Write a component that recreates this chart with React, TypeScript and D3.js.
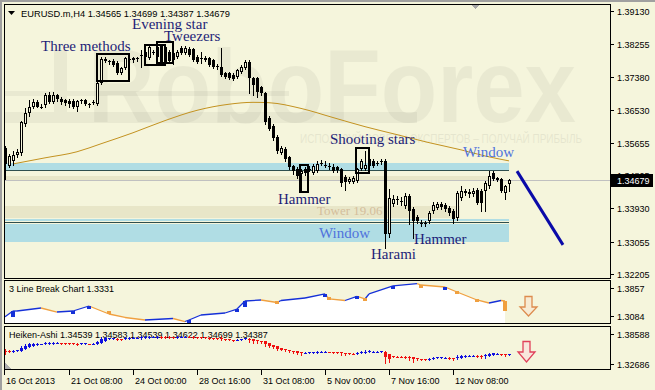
import React from "react";
import * as d3 from "d3";

// ---------- data ----------
const OPEN = [1.3553,1.3505,1.3518,1.3534,1.3539,1.3616,1.3643,1.3659,1.3672,1.3661,1.3664,1.3690,1.3672,1.3690,1.3680,1.3677,1.3675,1.3675,1.3661,1.3677,1.3677,1.3667,1.3669,1.3667,1.3722,1.3786,1.3780,1.3780,1.3775,1.3749,1.3762,1.3786,1.3783,1.3786,1.3794,1.3791,1.3788,1.3804,1.3791,1.3820,1.3818,1.3804,1.3802,1.3791,1.3815,1.3802,1.3812,1.3812,1.3791,1.3788,1.3788,1.3788,1.3783,1.3767,1.3764,1.3749,1.3749,1.3743,1.3738,1.3751,1.3762,1.3778,1.3735,1.3735,1.3712,1.3696,1.3632,1.3611,1.3582,1.3539,1.3550,1.3529,1.3505,1.3497,1.3484,1.3497,1.3497,1.3486,1.3492,1.3510,1.3508,1.3502,1.3502,1.3502,1.3497,1.3476,1.3462,1.3462,1.3465,1.3497,1.3497,1.3505,1.3518,1.3510,1.3518,1.3518,1.3325,1.3404,1.3415,1.3409,1.3399,1.3425,1.3391,1.3370,1.3354,1.3351,1.3359,1.3386,1.3393,1.3404,1.3401,1.3393,1.3386,1.3367,1.3420,1.3433,1.3431,1.3431,1.3441,1.3439,1.3439,1.3452,1.3486,1.3473,1.3470,1.3433,1.34565];
const HIGH = [1.3558,1.3537,1.3545,1.3550,1.3624,1.3656,1.3677,1.3680,1.3677,1.3667,1.3696,1.3698,1.3698,1.3693,1.3685,1.3682,1.3680,1.3680,1.3677,1.3682,1.3680,1.3669,1.3677,1.3725,1.3791,1.3791,1.3783,1.3786,1.3780,1.3764,1.3791,1.3791,1.3791,1.3791,1.3810,1.3810,1.3820,1.3810,1.3823,1.3826,1.3820,1.3810,1.3807,1.3810,1.3820,1.3820,1.3818,1.3815,1.3796,1.3804,1.3794,1.3791,1.3786,1.3772,1.3815,1.3751,1.3751,1.3749,1.3759,1.3770,1.3783,1.3783,1.3738,1.3738,1.3714,1.3698,1.3635,1.3614,1.3587,1.3558,1.3555,1.3531,1.3508,1.3502,1.3497,1.3502,1.3505,1.3510,1.3518,1.3521,1.3518,1.3513,1.3510,1.3505,1.3500,1.3481,1.3476,1.3478,1.3500,1.3523,1.3545,1.3550,1.3523,1.3518,1.3523,1.3523,1.3444,1.3428,1.3425,1.3423,1.3433,1.3431,1.3396,1.3375,1.3362,1.3359,1.3386,1.3409,1.3409,1.3409,1.3407,1.3399,1.3391,1.3439,1.3452,1.3444,1.3444,1.3446,1.3446,1.3444,1.3465,1.3492,1.3492,1.3476,1.3473,1.3454,1.34699];
const LOW = [1.3470,1.3502,1.3508,1.3529,1.3534,1.3611,1.3637,1.3656,1.3659,1.3656,1.3661,1.3669,1.3669,1.3675,1.3667,1.3664,1.3661,1.3656,1.3648,1.3669,1.3664,1.3661,1.3667,1.3664,1.3720,1.3778,1.3772,1.3767,1.3746,1.3746,1.3759,1.3778,1.3778,1.3780,1.3764,1.3788,1.3786,1.3799,1.3788,1.3775,1.3775,1.3778,1.3772,1.3788,1.3799,1.3799,1.3794,1.3780,1.3775,1.3775,1.3780,1.3767,1.3762,1.3759,1.3741,1.3735,1.3733,1.3730,1.3735,1.3749,1.3759,1.3696,1.3690,1.3685,1.3690,1.3616,1.3598,1.3574,1.3539,1.3537,1.3518,1.3497,1.3484,1.3473,1.3439,1.3481,1.3492,1.3484,1.3489,1.3508,1.3502,1.3497,1.3489,1.3489,1.3452,1.3441,1.3460,1.3460,1.3462,1.3494,1.3494,1.3502,1.3502,1.3508,1.3510,1.3288,1.3317,1.3399,1.3404,1.3401,1.3393,1.3351,1.3314,1.3354,1.3346,1.3346,1.3354,1.3380,1.3391,1.3391,1.3386,1.3375,1.3354,1.3362,1.3415,1.3428,1.3423,1.3425,1.3404,1.3386,1.3386,1.3446,1.3468,1.3465,1.3436,1.3417,1.34387];
const CLOSE = [1.3510,1.3531,1.3534,1.3542,1.3619,1.3643,1.3659,1.3672,1.3661,1.3659,1.3690,1.3672,1.3690,1.3680,1.3672,1.3669,1.3667,1.3659,1.3675,1.3675,1.3667,1.3666,1.3672,1.3722,1.3786,1.3780,1.3778,1.3770,1.3749,1.3762,1.3788,1.3783,1.3788,1.3788,1.3796,1.3804,1.3818,1.3803,1.3818,1.3778,1.3778,1.3780,1.3783,1.3804,1.3802,1.3815,1.3796,1.3783,1.3778,1.3787,1.3783,1.3770,1.3764,1.3764,1.3743,1.3738,1.3735,1.3733,1.3757,1.3764,1.3778,1.3735,1.3717,1.3698,1.3696,1.3619,1.3603,1.3579,1.3545,1.3553,1.3523,1.3502,1.3492,1.3478,1.3492,1.3486,1.3496,1.3505,1.3510,1.3513,1.3507,1.3505,1.3492,1.3494,1.3460,1.3462,1.3470,1.3473,1.3497,1.3518,1.3508,1.3523,1.3505,1.3513,1.3517,1.3325,1.3420,1.3417,1.3417,1.3412,1.3425,1.3386,1.3359,1.3359,1.3355,1.3354,1.3380,1.3401,1.3404,1.3396,1.3391,1.3380,1.3364,1.3433,1.3439,1.3438,1.3436,1.3439,1.3407,1.3407,1.3460,1.3478,1.3470,1.3468,1.3439,1.3452,1.34679];

const MA_IDX = [2,10,18,24,32,40,48,56,62,66,74,82,90,98,106,114,120,126];
const MA_VAL = [1.3510,1.3526,1.3542,1.3563,1.3592,1.3624,1.3651,1.3667,1.3672,1.3671,1.3656,1.3632,1.3608,1.3587,1.3566,1.3547,1.3531,1.3518];

const PRICE_TICKS = [1.3913,1.38255,1.3738,1.3653,1.35655,1.34805,1.3393,1.33055,1.32205];
const PRICE_LABELS = ["1.39130","1.38255","1.37380","1.36530","1.35655","1.34805","1.33930","1.33055","1.32205"];
const LAST_PRICE = 1.34679;
const LAST_LABEL = "1.34679";

const DATE_IDX = [0,16,32,48,64,80,96,112];
const DATE_LABELS = ["16 Oct 2013","21 Oct 08:00","24 Oct 00:00","28 Oct 16:00","31 Oct 08:00","5 Nov 00:00","7 Nov 16:00","12 Nov 08:00"];

// 3 line break
const LB_IDX = [0,2,3,9,13,17,21,26,30,35,42,45,46,49,55,58,60,64,68,69,75,80,81,85,88,90,91,97,103,104,110,113,118,121,124,125];
const LB_VAL = [1.3062,1.3222,1.3222,1.3305,1.3194,1.3222,1.3360,1.3139,1.3043,1.2974,1.3015,1.2932,1.2974,1.3112,1.3167,1.3277,1.3498,1.3526,1.3457,1.3512,1.3581,1.3692,1.3554,1.3512,1.3623,1.3554,1.3692,1.3913,1.3979,1.3940,1.3885,1.3747,1.3526,1.3443,1.3512,1.3498];
const BRICK_IDX = [2,17,21,26,46,58,60,68,80,81,88,90,97,104,110,113,118,125];
const BRICK_FROM = [1.3062,1.3139,1.3305,1.3222,1.2932,1.3222,1.3333,1.3498,1.3609,1.3609,1.3581,1.3581,1.3858,1.3940,1.3858,1.3775,1.3554,1.3498];
const BRICK_TO = [1.3222,1.3222,1.3360,1.3139,1.2974,1.3277,1.3498,1.3457,1.3692,1.3554,1.3623,1.3540,1.3913,1.3913,1.3885,1.3747,1.3526,1.3222];
const LB_TICKS = [1.3857,1.3084];
const LB_LABELS = ["1.3857","1.3084"];
const HA_TICKS = [1.38588,1.32686];
const HA_LABELS = ["1.38588","1.32686"];

// levels / zones
const WINDOW_UP = [1.3495,1.3512];
const WINDOW_UP_LINE = 1.3495;
const BEIGE_BAND = [1.3468,1.3478];
const TOWER_BAND = [1.3368,1.3399];
const LOW_THIN = [1.3359,1.3365];
const LOW_LINE1 = 1.3358;
const LOW_LINE2 = 1.3352;
const WINDOW_LOW = [1.3305,1.3351];
const DIAG_IDX = [128,139.5];
const DIAG_VAL = [1.3491,1.3297];

const BOXES = [
  { i0: 23, i1: 31, p0: 1.37991, p1: 1.37281 },
  { i0: 35, i1: 40, p0: 1.38228, p1: 1.37702 },
  { i0: 38, i1: 42, p0: 1.38307, p1: 1.37755 },
  { i0: 73.8, i1: 75.8, p0: 1.35071, p1: 1.34362 },
  { i0: 87.8, i1: 91, p0: 1.35519, p1: 1.34862 },
];

const BG = "#F5F5DC";
const NAVY = "#1E1E78";
const WIN = "#4F72DC";
const SANS = "'Liberation Sans', Arial, sans-serif";
const SERIF = "'Liberation Serif', 'Times New Roman', serif";

export default function App() {
  const x = d3.scaleLinear().domain([0, 126]).range([5, 509]);
  const y = d3.scaleLinear().domain([1.32205, 1.3913]).range([274, 10.7]);
  const yLB = d3.scaleLinear().domain([1.3084, 1.3857]).range([316, 288]);
  const yHA = d3.scaleLinear().domain([1.32686, 1.38588]).range([364, 334]);

  const maLine = d3.line<number>().x((_, k) => x(MA_IDX[k])).y((v) => y(v)).curve(d3.curveMonotoneX)(MA_VAL) || "";
  const lbArea = d3.area<number>().x((_, k) => x(LB_IDX[k])).y0(323).y1((v) => yLB(v))(LB_VAL) || "";

  // Heiken-Ashi from the candle arrays
  const ha: { o: number; c: number; h: number; l: number }[] = [];
  OPEN.forEach((o, i) => {
    const c = (o + HIGH[i] + LOW[i] + CLOSE[i]) / 4;
    const hoStart = i === 0 ? (o + CLOSE[i]) / 2 : (ha[i - 1].o + ha[i - 1].c) / 2;
    ha.push({ o: hoStart, c, h: Math.max(HIGH[i], hoStart, c), l: Math.min(LOW[i], hoStart, c) });
  });

  const zone = (p: number[], x0: number, x1: number, fill: string, key: string) => {
    const y0 = Math.round(y(p[1]));
    const y1 = Math.round(y(p[0]));
    return <rect key={key} x={x0} y={y0} width={x1 - x0} height={Math.max(1, y1 - y0)} fill={fill} />;
  };
  const hline = (p: number, x0: number, x1: number, stroke: string, key: string) => (
    <line key={key} x1={x0} x2={x1} y1={Math.round(y(p)) + 0.5} y2={Math.round(y(p)) + 0.5} stroke={stroke} />
  );

  return (
    <div style={{ position: "fixed", left: 0, top: 0, width: 655, height: 390 }}>
      <svg width={655} height={390} style={{ display: "block", fontFamily: SANS }} shapeRendering="crispEdges">
        <rect x={0} y={0} width={655} height={390} fill={BG} />
        <rect x={0} y={0} width={655} height={2} fill="#A0A0A0" />
        <rect x={0} y={0} width={2} height={390} fill="#A0A0A0" />

        {/* ---------- main panel ---------- */}
        <g>
          {/* watermark */}
          <g fill="#000" opacity={0.045}>
            <rect x={5} y={91} width={284} height={5} />
            <rect x={5} y={112} width={412} height={11} />
            <rect x={54} y={50} width={13} height={72} />
          </g>
          <text x={88} y={122} fontSize={103} fontWeight={700} textLength={488} lengthAdjust="spacingAndGlyphs" fill="#000" opacity={0.045} shapeRendering="auto">RoboForex</text>
          <text x={300} y={143} fontSize={12} textLength={282} lengthAdjust="spacingAndGlyphs" fill="#000" opacity={0.06}>ИСПОЛЬЗУЙ СОВЕТЫ ЭКСПЕРТОВ – ПОЛУЧАЙ ПРИБЫЛЬ</text>

          {/* zones */}
          {zone(BEIGE_BAND, 5, 490, "#E8E6C8", "bb")}
          {zone(TOWER_BAND, 5, 460, "#E8E6C8", "tb")}
          {zone(WINDOW_UP, 5, 509, "#B0DDE4", "wu")}
          {hline(WINDOW_UP_LINE, 5, 509, "#2F4F4F", "wul")}
          {zone(LOW_THIN, 5, 509, "#B0DDE4", "lt")}
          {hline(LOW_LINE1, 5, 509, "#2F4F4F", "ll1")}
          {hline(LOW_LINE2, 5, 509, "#1A2A2A", "ll2")}
          {zone(WINDOW_LOW, 5, 509, "#B0DDE4", "wl")}
          {hline(LAST_PRICE, 5, 610, "#C0C0C0", "lp")}
          <text x={317} y={215} fontFamily={SERIF} fontSize={13} fill="#D4BE9C" shapeRendering="auto">Tower 19.06</text>

          {/* moving average */}
          <path d={maLine} fill="none" stroke="#C39220" strokeWidth={1} shapeRendering="auto" />

          {/* candles */}
          {OPEN.map((o, i) => {
            const cx = Math.round(x(i));
            const c = CLOSE[i];
            const yO = Math.round(y(o)), yC = Math.round(y(c));
            const yH = Math.round(y(HIGH[i])), yL = Math.round(y(LOW[i]));
            const top = Math.min(yO, yC), bot = Math.max(yO, yC);
            if (c > o && bot - top >= 2) {
              return (
                <g key={i}>
                  <line x1={cx + 0.5} x2={cx + 0.5} y1={yH} y2={top} stroke="#000" />
                  <line x1={cx + 0.5} x2={cx + 0.5} y1={bot} y2={yL + 1} stroke="#000" />
                  <rect x={cx - 0.5} y={top + 0.5} width={2} height={bot - top - 1} fill={BG} stroke="#000" />
                </g>
              );
            }
            return (
              <g key={i}>
                <line x1={cx + 0.5} x2={cx + 0.5} y1={yH} y2={yL + 1} stroke="#000" />
                <rect x={cx - 1} y={top} width={3} height={Math.max(1, bot - top)} fill="#000" />
              </g>
            );
          })}

          {/* pattern boxes */}
          {BOXES.map((b, k) => (
            <rect key={k} x={Math.round(x(b.i0))} y={Math.round(y(b.p0))} width={Math.round(x(b.i1)) - Math.round(x(b.i0))}
              height={Math.round(y(b.p1)) - Math.round(y(b.p0))} fill="none" stroke="#000" strokeWidth={2} />
          ))}

          {/* annotation labels */}
          <g fontFamily={SERIF} fontSize={15} fill={NAVY} shapeRendering="auto">
            <text x={41} y={51}>Three methods</text>
            <text x={132} y={29}>Evening star</text>
            <text x={164} y={41}>Tweezers</text>
            <text x={330} y={144}>Shooting stars</text>
            <text x={278} y={204}>Hammer</text>
            <text x={414} y={244}>Hammer</text>
            <text x={371} y={259}>Harami</text>
            <text x={463} y={157} fill={WIN}>Window</text>
            <text x={319} y={238} fill={WIN}>Window</text>
          </g>

          {/* forecast line */}
          <line x1={x(DIAG_IDX[0])} y1={y(DIAG_VAL[0])} x2={x(DIAG_IDX[1])} y2={y(DIAG_VAL[1])} stroke="#0A0AA8" strokeWidth={3} shapeRendering="auto" />

          {/* shift marker */}
          <path d="M471,5 L479,5 L475,9 Z" fill="#A8A8A8" />

          {/* header */}
          <path d="M8,11 L15,11 L11.5,15 Z" fill="#000" shapeRendering="auto" />
          <text x={21} y={17} fontSize={9.3} fill="#000" shapeRendering="auto">EURUSD.m,H4  1.34565 1.34699 1.34387 1.34679</text>

          <rect x={4.5} y={4.5} width={606} height={274} fill="none" stroke="#000" />
        </g>

        {/* price axis */}
        <g fontSize={9} fill="#000" shapeRendering="auto">
          {PRICE_TICKS.map((p, k) => (
            <g key={k}>
              <line x1={611} x2={614} y1={Math.round(y(p)) + 0.5} y2={Math.round(y(p)) + 0.5} stroke="#000" shapeRendering="crispEdges" />
              <text x={617} y={Math.round(y(p)) + 3.5}>{PRICE_LABELS[k]}</text>
            </g>
          ))}
          <rect x={611} y={Math.round(y(LAST_PRICE)) - 6} width={42} height={13} fill="#000" shapeRendering="crispEdges" />
          <text x={617} y={Math.round(y(LAST_PRICE)) + 4} fill="#fff">{LAST_LABEL}</text>
        </g>

        {/* ---------- 3 line break panel ---------- */}
        <g>
          <path d={lbArea} fill="#FFFFFF" shapeRendering="auto" />
          {LB_VAL.slice(1).map((v, k) => {
            const prev = LB_VAL[k];
            return (
              <line key={k} x1={x(LB_IDX[k])} y1={yLB(prev)} x2={x(LB_IDX[k + 1])} y2={yLB(v)}
                stroke={v >= prev ? "#1530D8" : "#F0A040"} strokeWidth={1.3} shapeRendering="auto" />
            );
          })}
          {BRICK_IDX.map((bi, k) => {
            const a = yLB(BRICK_FROM[k]), b = yLB(BRICK_TO[k]);
            return (
              <rect key={k} x={Math.round(x(bi)) - 2} y={Math.round(Math.min(a, b))} width={4}
                height={Math.max(3, Math.round(Math.abs(a - b)))} fill={BRICK_TO[k] > BRICK_FROM[k] ? "#1530D8" : "#F0A040"} />
            );
          })}
          <text x={9} y={292} fontSize={9} fill="#000" shapeRendering="auto">3 Line Break Chart 1.3331</text>
          <path d="M525,296.5 L532,296.5 L532,307 L537,307 L528.5,316 L520,307 L525,307 Z" fill="#F7EBD4" stroke="#DD8B4E" strokeWidth={1.3} shapeRendering="auto" />
          <rect x={4.5} y={280.5} width={606} height={43} fill="none" stroke="#000" />
          <g fontSize={9} fill="#000" shapeRendering="auto">
            {LB_TICKS.map((p, k) => (
              <g key={k}>
                <line x1={611} x2={614} y1={Math.round(yLB(p)) + 0.5} y2={Math.round(yLB(p)) + 0.5} stroke="#000" shapeRendering="crispEdges" />
                <text x={617} y={Math.round(yLB(p)) + 3.5}>{LB_LABELS[k]}</text>
              </g>
            ))}
          </g>
        </g>

        {/* ---------- Heiken-Ashi panel ---------- */}
        <g>
          <text x={9} y={338} fontSize={9} fill="#000" shapeRendering="auto">Heiken-Ashi 1.34539 1.34583 1.34539 1.34622 1.34699 1.34387</text>
          {ha.map((d, i) => {
            const cx = Math.round(x(i));
            const col = d.c >= d.o ? "#1010E0" : "#F01010";
            const a = Math.round(yHA(d.o)), b = Math.round(yHA(d.c));
            const top = Math.min(a, b), bot = Math.max(a, b);
            return (
              <g key={i}>
                <line x1={cx + 0.5} x2={cx + 0.5} y1={Math.round(yHA(d.h))} y2={Math.round(yHA(d.l)) + 1} stroke={col} />
                <rect x={cx - 1} y={top} width={3} height={Math.max(1, bot - top)} fill={col} />
              </g>
            );
          })}
          <path d="M523,341.5 L530,341.5 L530,352 L535,352 L526.5,362 L518,352 L523,352 Z" fill="#F8E6DC" stroke="#E0405A" strokeWidth={1.3} shapeRendering="auto" />
          <path d="M5,363 L5,369 L11,369 Z" fill="#B0B0B0" />
          <rect x={4.5} y={326.5} width={606} height={43} fill="none" stroke="#000" />
          <g fontSize={9} fill="#000" shapeRendering="auto">
            {HA_TICKS.map((p, k) => (
              <g key={k}>
                <line x1={611} x2={614} y1={Math.round(yHA(p)) + 0.5} y2={Math.round(yHA(p)) + 0.5} stroke="#000" shapeRendering="crispEdges" />
                <text x={617} y={Math.round(yHA(p)) + 3.5}>{HA_LABELS[k]}</text>
              </g>
            ))}
          </g>
        </g>

        {/* ---------- time axis ---------- */}
        <g fontSize={9} fill="#000">
          {DATE_IDX.map((di, k) => {
            const tx = k === 0 ? 4 : Math.round(x(di));
            return (
              <g key={k}>
                <line x1={tx + 0.5} x2={tx + 0.5} y1={370} y2={375} stroke="#000" />
                <text x={tx + 2} y={384} shapeRendering="auto">{DATE_LABELS[k]}</text>
              </g>
            );
          })}
        </g>
      </svg>
    </div>
  );
}
